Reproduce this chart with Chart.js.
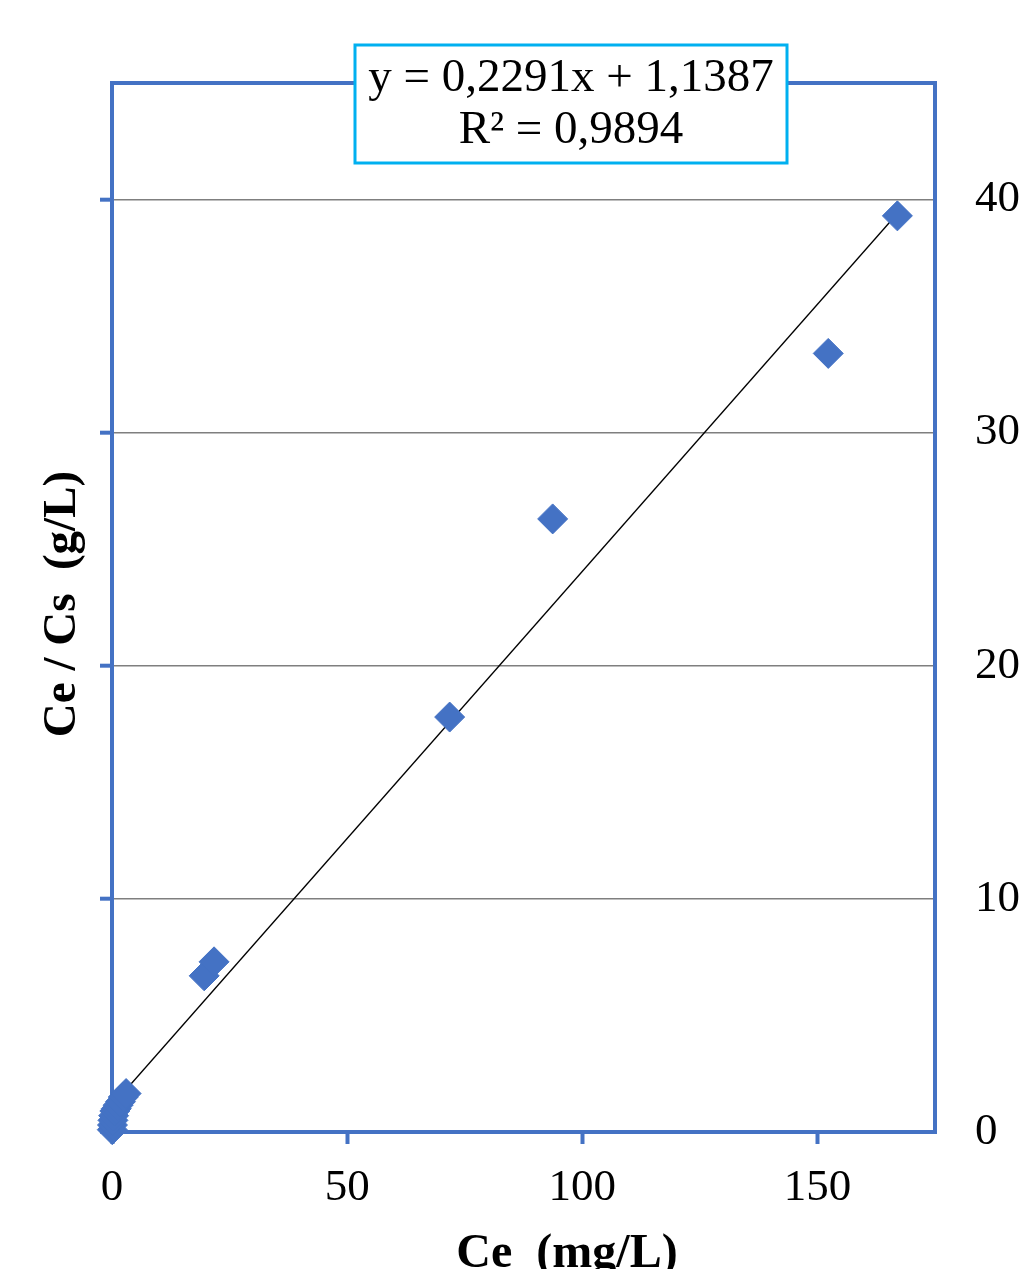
<!DOCTYPE html>
<html>
<head>
<meta charset="utf-8">
<script src="https://cdn.jsdelivr.net/npm/chart.js@4/dist/chart.umd.min.js"></script>
<style>
  html, body { margin: 0; padding: 0; background: #fff; }
  #wrap { width: 1024px; height: 1269px; }
</style>
</head>
<body>
<div id="wrap"><canvas id="c" width="1024" height="1269"></canvas></div>
<script>
// ---- data ----
const ceValues   = [0.05, 0.1, 0.2, 0.35, 0.6, 0.9, 1.3, 1.8, 2.4, 3.0, 19.6, 21.7, 71.8, 93.7, 152.3, 167.0];
const ceCsValues = [0.1, 0.3, 0.5, 0.7, 0.9, 1.0, 1.15, 1.3, 1.5, 1.65, 6.7, 7.3, 17.8, 26.3, 33.4, 39.3];
const trendX = [0.2, 167.0];
const trendY = [1.18, 39.40];
const xTicks = [0, 50, 100, 150];
const yTicks = [0, 10, 20, 30, 40];
const equationLines = ['y = 0,2291x + 1,1387', 'R² = 0,9894'];
const xTitle = 'Ce  (mg/L)';
const yTitle = 'Ce / Cs  (g/L)';

const BLUE = '#4472C4';
const SERIF = "'Liberation Serif', 'Times New Roman', serif";

const points = ceValues.map((x, i) => ({ x, y: ceCsValues[i] }));
const trend = trendX.map((x, i) => ({ x, y: trendY[i] }));

const deco = {
  id: 'deco',
  beforeDatasetsDraw(chart) {
    const { ctx, chartArea: a } = chart;
    ctx.save();
    ctx.strokeStyle = BLUE;
    ctx.lineWidth = 4;
    ctx.strokeRect(a.left, a.top, a.right - a.left, a.bottom - a.top);
    ctx.restore();
  },
  afterDraw(chart) {
    const { ctx } = chart;
    ctx.save();
    // equation box
    ctx.fillStyle = '#fff';
    ctx.fillRect(355, 45, 432, 118);
    ctx.strokeStyle = '#00B0F0';
    ctx.lineWidth = 3;
    ctx.strokeRect(355, 45, 432, 118);
    ctx.fillStyle = '#000';
    ctx.textAlign = 'center';
    ctx.textBaseline = 'middle';
    ctx.font = '47px ' + SERIF;
    ctx.fillText(equationLines[0], 571, 79);
    ctx.fillText(equationLines[1], 571, 131);
    // axis titles
    ctx.font = 'bold 48px ' + SERIF;
    ctx.textBaseline = 'alphabetic';
    ctx.fillText(xTitle, 567, 1267);
    ctx.translate(75, 604);
    ctx.rotate(-Math.PI / 2);
    ctx.font = 'bold 47px ' + SERIF;
    ctx.fillText(yTitle, 0, 0);
    ctx.restore();
  }
};

new Chart(document.getElementById('c'), {
  type: 'scatter',
  data: {
    datasets: [
      {
        label: 'Ce/Cs',
        data: points,
        yAxisID: 'y',
        pointStyle: 'rectRot',
        pointRadius: 15,
        pointBackgroundColor: BLUE,
        pointBorderColor: BLUE,
        pointBorderWidth: 1,
        showLine: false,
        clip: false,
        order: 1
      },
      {
        label: 'Trend',
        type: 'line',
        data: trend,
        yAxisID: 'y',
        borderColor: '#000',
        borderWidth: 1.3,
        pointRadius: 0,
        fill: false,
        order: 2
      }
    ]
  },
  options: {
    responsive: false,
    animation: false,
    layout: { padding: { top: 83, left: 0, right: 0, bottom: 0 } },
    plugins: { legend: { display: false }, tooltip: { enabled: false } },
    scales: {
      x: {
        type: 'linear', position: 'bottom', min: 0, max: 175,
        afterBuildTicks: s => { s.ticks = xTicks.map(v => ({ value: v })); },
        ticks: { font: { family: SERIF, size: 45 }, color: '#000', padding: 17, maxRotation: 0 },
        grid: { drawOnChartArea: false, drawTicks: true, tickLength: 12, tickColor: BLUE, tickWidth: 4, color: BLUE },
        border: { display: false },
        afterFit: s => { s.height = 137; }
      },
      y: {
        type: 'linear', position: 'left', min: 0, max: 45,
        afterBuildTicks: s => { s.ticks = yTicks.map(v => ({ value: v })); },
        ticks: { display: false },
        grid: { drawOnChartArea: true, drawTicks: true, tickLength: 12, tickColor: BLUE, tickWidth: 4, color: '#7f7f7f', lineWidth: 1.4 },
        border: { display: false },
        afterFit: s => { s.width = 112; }
      },
      y2: {
        type: 'linear', position: 'right', min: 0, max: 45,
        afterBuildTicks: s => { s.ticks = yTicks.map(v => ({ value: v })); },
        ticks: { font: { family: SERIF, size: 45 }, color: '#000', padding: 40 },
        grid: { display: false, drawTicks: false },
        border: { display: false },
        afterFit: s => { s.width = 89; }
      }
    }
  },
  plugins: [deco]
});
</script>
</body>
</html>
